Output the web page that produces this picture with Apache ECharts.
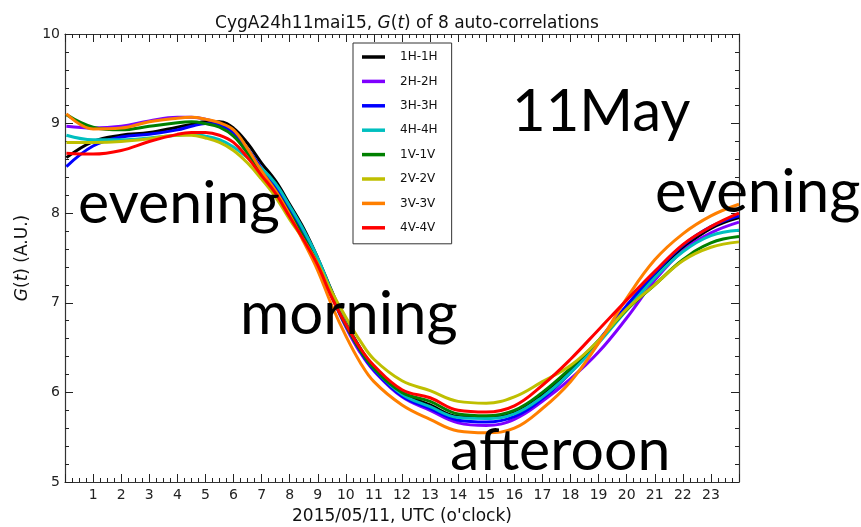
<!DOCTYPE html>
<html>
<head>
<meta charset="utf-8">
<script src="https://cdn.jsdelivr.net/npm/echarts@6/dist/echarts.min.js"></script>
<style>
  html, body { margin: 0; padding: 0; background: #fff; }
  #chart { width: 861px; height: 527px; }
</style>
</head>
<body>
<div id="chart"></div>
<script>
// Hours of the day (UTC) at which G(t) is sampled
const hours = [0.05, 1, 2, 3, 4, 4.5, 5, 5.5, 6, 6.5, 7, 7.5, 8, 8.5, 9, 9.5, 10, 10.5, 11, 12, 13, 14, 15, 16, 17, 18, 19, 20, 21, 22, 23, 24];

const seriesNames = ['1H-1H', '2H-2H', '3H-3H', '4H-4H', '1V-1V', '2V-2V', '3V-3V', '4V-4V'];
const seriesColors = ['#000000', '#7f00ff', '#0000ff', '#00bfbf', '#008000', '#bfbf00', '#ff7f00', '#ff0000'];

// G(t) values (A.U.) for each auto-correlation
const g1H = [8.62, 8.80, 8.87, 8.90, 8.96, 8.99, 9.02, 9.02, 8.95, 8.78, 8.56, 8.36, 8.10, 7.83, 7.50, 7.13, 6.78, 6.50, 6.28, 6.00, 5.86, 5.73, 5.72, 5.77, 5.97, 6.25, 6.57, 6.95, 7.31, 7.61, 7.83, 7.95];
const g2H = [8.97, 8.95, 8.97, 9.03, 9.07, 9.07, 9.05, 9.00, 8.90, 8.70, 8.48, 8.28, 8.02, 7.75, 7.45, 7.07, 6.73, 6.45, 6.24, 5.95, 5.80, 5.66, 5.63, 5.70, 5.90, 6.15, 6.45, 6.83, 7.25, 7.58, 7.78, 7.90];
const g3H = [8.52, 8.75, 8.85, 8.88, 8.93, 8.97, 9.00, 8.98, 8.90, 8.72, 8.50, 8.30, 8.04, 7.77, 7.47, 7.10, 6.75, 6.47, 6.25, 5.96, 5.82, 5.69, 5.67, 5.73, 5.93, 6.22, 6.58, 6.97, 7.33, 7.64, 7.85, 7.97];
const g4H = [8.87, 8.82, 8.82, 8.84, 8.87, 8.88, 8.86, 8.82, 8.74, 8.62, 8.50, 8.33, 8.08, 7.81, 7.50, 7.12, 6.77, 6.49, 6.27, 5.98, 5.84, 5.72, 5.71, 5.76, 5.95, 6.22, 6.55, 6.92, 7.28, 7.57, 7.75, 7.81];
const g1V = [9.10, 8.96, 8.93, 8.97, 9.01, 9.02, 9.00, 8.96, 8.86, 8.67, 8.45, 8.25, 8.00, 7.73, 7.43, 7.07, 6.75, 6.48, 6.27, 6.00, 5.90, 5.76, 5.74, 5.80, 6.00, 6.27, 6.58, 6.92, 7.20, 7.48, 7.67, 7.74];
const g2V = [8.79, 8.79, 8.80, 8.83, 8.87, 8.87, 8.84, 8.79, 8.70, 8.56, 8.38, 8.18, 7.93, 7.70, 7.44, 7.12, 6.84, 6.58, 6.37, 6.13, 6.02, 5.90, 5.88, 5.95, 6.12, 6.30, 6.58, 6.93, 7.20, 7.47, 7.62, 7.68];
const g3V = [9.11, 8.94, 8.95, 9.02, 9.06, 9.07, 9.05, 9.01, 8.93, 8.72, 8.47, 8.25, 7.98, 7.68, 7.36, 6.97, 6.63, 6.34, 6.12, 5.86, 5.70, 5.57, 5.55, 5.60, 5.82, 6.12, 6.55, 7.05, 7.48, 7.77, 7.97, 8.10];
const g4V = [8.67, 8.66, 8.70, 8.80, 8.88, 8.90, 8.90, 8.87, 8.79, 8.62, 8.42, 8.22, 7.96, 7.70, 7.42, 7.06, 6.76, 6.50, 6.30, 6.03, 5.94, 5.80, 5.78, 5.85, 6.08, 6.37, 6.70, 7.03, 7.35, 7.65, 7.85, 8.00];

const seriesValues = [g1H, g2H, g3H, g4H, g1V, g2V, g3V, g4V];

// Y axis ticks
const yTicks = [5, 6, 7, 8, 9, 10];

const axisFont = 'DejaVu Sans';
const bigFont = 'Lato';

const chart = echarts.init(document.getElementById('chart'), null, { renderer: 'canvas' });

const tickStyle = { color: '#222', width: 1 };
function frameAxis(extra) {
  return Object.assign({
    axisLine: { show: true, onZero: false, lineStyle: { color: '#333', width: 1.2 } },
    axisTick: { show: true, inside: true, length: 8, lineStyle: tickStyle },
    minorTick: { show: true, length: 4, lineStyle: tickStyle },
    splitLine: { show: false },
    minorSplitLine: { show: false }
  }, extra);
}

const option = {
  animation: false,
  backgroundColor: '#ffffff',
  title: {
    text: 'CygA24h11mai15, {i|G}({i|t}) of 8 auto-correlations',
    left: 402, top: 10, textAlign: 'center',
    textStyle: {
      fontFamily: axisFont, fontSize: 17, fontWeight: 'normal', color: '#111',
      rich: { i: { fontFamily: axisFont, fontStyle: 'italic', fontSize: 17, color: '#111' } }
    }
  },
  grid: { left: 65, right: 122, top: 34, bottom: 45, containLabel: false, outerBoundsMode: 'none' },
  legend: {
    orient: 'vertical',
    left: 353, top: 43,
    data: seriesNames,
    icon: 'rect',
    itemWidth: 23, itemHeight: 3.5,
    itemGap: 8.4,
    padding: [6, 14, 8, 9],
    borderColor: '#333', borderWidth: 1, borderRadius: 0,
    backgroundColor: '#fff',
    textStyle: { fontFamily: axisFont, fontSize: 12, color: '#111', lineHeight: 16, padding: [0, 0, 0, 10] }
  },
  xAxis: [
    frameAxis({
      type: 'value', min: 0, max: 24, interval: 1, position: 'bottom',
      minorTick: { show: true, splitNumber: 4, length: 4, lineStyle: tickStyle },
      axisLabel: {
        fontFamily: axisFont, fontSize: 14, color: '#222', margin: 6,
        showMinLabel: false, showMaxLabel: false
      },
      name: '2015/05/11, UTC (o\'clock)', nameLocation: 'middle', nameGap: 26,
      nameTextStyle: { fontFamily: axisFont, fontSize: 17, color: '#111' }
    }),
    frameAxis({
      type: 'value', min: 0, max: 24, interval: 1, position: 'top',
      minorTick: { show: true, splitNumber: 4, length: 4, lineStyle: tickStyle },
      axisLabel: { show: false }
    })
  ],
  yAxis: [
    frameAxis({
      type: 'value', min: yTicks[0], max: yTicks[yTicks.length - 1], interval: 1, position: 'left',
      minorTick: { show: true, splitNumber: 5, length: 4, lineStyle: tickStyle },
      axisLabel: { fontFamily: axisFont, fontSize: 14, color: '#222', margin: 5 },
      name: '{i|G}({i|t}) (A.U.)', nameLocation: 'middle', nameGap: 30, nameRotate: 90,
      nameTextStyle: {
        fontFamily: axisFont, fontSize: 17, color: '#111',
        rich: { i: { fontFamily: axisFont, fontStyle: 'italic', fontSize: 17, color: '#111' } }
      }
    }),
    frameAxis({
      type: 'value', min: yTicks[0], max: yTicks[yTicks.length - 1], interval: 1, position: 'right',
      minorTick: { show: true, splitNumber: 5, length: 4, lineStyle: tickStyle },
      axisLabel: { show: false }
    })
  ],
  series: seriesNames.map((name, k) => ({
    name: name,
    type: 'line',
    xAxisIndex: 0, yAxisIndex: 0,
    data: hours.map((h, i) => [h, seriesValues[k][i]]),
    smooth: 0.4,
    showSymbol: false,
    symbol: 'none',
    clip: true,
    color: seriesColors[k],
    lineStyle: { color: seriesColors[k], width: 3 },
    z: 2 + k
  })),
  graphic: [
    { type: 'text', left: 512, top: 83, z: 100, style: { text: '11May', font: '58px ' + bigFont, fill: '#000' } },
    { type: 'text', left: 78, top: 174, z: 100, style: { text: 'evening', font: '59px ' + bigFont, fill: '#000' } },
    { type: 'text', left: 655, top: 163, z: 100, style: { text: 'evening', font: '60px ' + bigFont, fill: '#000' } },
    { type: 'text', left: 240, top: 285, z: 100, style: { text: 'morning', font: '60px ' + bigFont, fill: '#000' } },
    { type: 'text', left: 450, top: 421, z: 100, style: { text: 'afteroon', font: '59px ' + bigFont, fill: '#000' } }
  ]
};

chart.setOption(option);
</script>
</body>
</html>
